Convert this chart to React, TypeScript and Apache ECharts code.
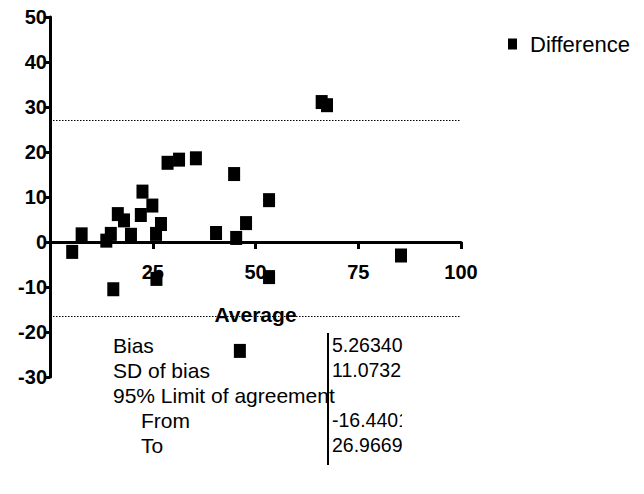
import React, { useEffect, useRef } from "react";
import * as echarts from "echarts";

// Bland-Altman data: average (x) vs difference (y)
const averages = [5.4, 7.7, 13.7, 14.8, 15.4, 16.5, 18.0, 19.7, 22.1, 22.5, 24.9, 25.8, 25.9, 27.0, 28.6, 31.4, 35.5, 40.4, 44.8, 45.3, 46.2, 47.7, 53.3, 53.3, 66.1, 67.4, 85.4];
const differences = [-2.2, 1.7, 0.3, 1.8, -10.5, 6.2, 4.8, 1.6, 6.0, 11.2, 8.1, 1.8, -8.2, 4.0, 17.6, 18.3, 18.6, 2.0, 15.1, 0.9, -24.2, 4.2, 9.3, -7.8, 31.1, 30.4, -3.0];

const limitsOfAgreement = [26.9669, -16.4401];

const xTicks = { min: 0, max: 100, interval: 25 };
const yTicks = { min: -30, max: 50, interval: 10 };

const tableLabels = ["Bias", "SD of bias", "95% Limit of agreement", "From", "To"];
const tableValues = ["5.26340", "11.0732", "", "-16.4401", "26.9669"];
const indentedRows = ["From", "To"];

const seriesName = "Difference";
const xAxisTitle = "Average";

const FONT = "'Liberation Sans', Arial, Helvetica, sans-serif";

export default function App() {
  const ref = useRef<HTMLDivElement>(null);

  useEffect(() => {
    if (!ref.current) return;
    const chart = echarts.init(ref.current, undefined, { renderer: "svg" });

    const data = averages.map((a, i) => [a, differences[i]]);

    const gridTop = 17;
    const gridBottom = 117;
    const gridH = 494 - gridTop - gridBottom;
    const zeroOffset = ((0 - yTicks.min) / (yTicks.max - yTicks.min)) * gridH;

    const tableTop = 345;
    const rowH = 25;
    const labelX = 113;
    const indent = 28;
    const valueX = 332;

    const graphics: any[] = [];
    tableLabels.forEach((lab, i) => {
      graphics.push({
        type: "text",
        x: labelX + (indentedRows.includes(lab) ? indent : 0),
        y: tableTop + i * rowH,
        z: 10,
        style: {
          text: lab,
          fill: "#000",
          font: `21px ${FONT}`,
          verticalAlign: "middle",
        },
      });
      if (tableValues[i]) {
        graphics.push({
          type: "text",
          x: valueX,
          y: tableTop + i * rowH,
          z: 10,
          style: {
            text: tableValues[i],
            fill: "#000",
            font: `19.5px ${FONT}`,
            verticalAlign: "middle",
          },
        });
      }
    });
    graphics.push({
      type: "line",
      z: 11,
      shape: { x1: 328, y1: 333, x2: 328, y2: 465 },
      style: { stroke: "#000", lineWidth: 2 },
    });
    graphics.push({
      type: "rect",
      z: 12,
      shape: { x: 402, y: 408, width: 40, height: 26 },
      style: { fill: "#fff" },
    });

    chart.setOption({
      animation: false,
      backgroundColor: "#fff",
      grid: { left: 50, right: 183, top: gridTop, bottom: gridBottom, containLabel: false },
      legend: {
        data: [seriesName],
        left: 503,
        top: 28,
        icon: "rect",
        itemWidth: 9,
        itemHeight: 11,
        itemGap: 6,
        textStyle: { fontSize: 22, color: "#000", fontFamily: FONT, padding: [0, 0, 0, 8] },
      },
      xAxis: {
        type: "value",
        min: xTicks.min,
        max: xTicks.max,
        interval: xTicks.interval,
        offset: -zeroOffset,
        name: xAxisTitle,
        nameLocation: "middle",
        nameGap: 62,
        nameTextStyle: { fontSize: 21, fontWeight: "bold", color: "#000", fontFamily: FONT },
        axisLine: { show: true, onZero: false, lineStyle: { color: "#000", width: 3 } },
        axisTick: { show: true, length: 7, lineStyle: { color: "#000", width: 3 } },
        axisLabel: {
          showMinLabel: false,
          margin: 20,
          fontSize: 20,
          fontWeight: "bold",
          color: "#000",
          fontFamily: FONT,
        },
        splitLine: { show: false },
      },
      yAxis: {
        type: "value",
        min: yTicks.min,
        max: yTicks.max,
        interval: yTicks.interval,
        axisLine: { show: true, onZero: false, lineStyle: { color: "#000", width: 3 } },
        axisTick: { show: true, length: 6, lineStyle: { color: "#000", width: 3 } },
        axisLabel: {
          margin: 3,
          fontSize: 20,
          fontWeight: "bold",
          color: "#000",
          fontFamily: FONT,
        },
        splitLine: { show: false },
      },
      series: [
        {
          name: seriesName,
          type: "scatter",
          symbol: "rect",
          symbolSize: [12, 14],
          itemStyle: { color: "#000", opacity: 1 },
          data,
          z: 5,
          markLine: {
            silent: true,
            symbol: "none",
            label: { show: false },
            lineStyle: { color: "#000", width: 1, type: [1.5, 1.5], opacity: 1 },
            data: limitsOfAgreement.map((v) => ({ yAxis: v })),
          },
        },
      ],
      graphic: graphics,
    });

    return () => chart.dispose();
  }, []);

  return (
    <div
      ref={ref}
      style={{ position: "absolute", left: 0, top: 0, width: 644, height: 494 }}
    />
  );
}
